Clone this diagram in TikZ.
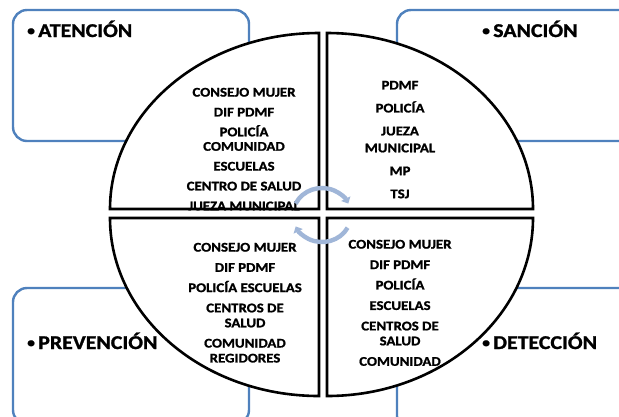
\documentclass[tikz,border=0pt]{standalone}
\usepackage{fontspec}
\setmainfont{Carlito}[FakeStretch=1.12, BoldFeatures={FakeBold=1.2}]
\usetikzlibrary{arrows.meta}
\definecolor{boxblue}{RGB}{79,129,189}
\definecolor{cycblue}{RGB}{160,182,216}
\newcommand{\areadot}{\raisebox{1.8bp}{\fontsize{14}{14}\selectfont•}\,}
\tikzset{
  areabox/.style={draw=boxblue, line width=2.4bp, fill=white, rounded corners=14bp},
  quarter/.style={draw=black, line width=2.6bp, fill=white},
  areatitle/.style={anchor=base west, inner sep=0pt, font=\fontsize{19.6}{22}\selectfont\bfseries},
  actorlist/.style={anchor=north, inner sep=0pt, align=center, font=\fontsize{13.3}{14.5}\selectfont\bfseries},
  cycarrow/.style={draw=cycblue, line width=4.4bp, -{Triangle[length=5.5bp,width=10bp]}}
}

\begin{document}
\begin{tikzpicture}[x=1bp, y=-1bp]
			%%%%% START %%%%%
			\useasboundingbox (0, 0) rectangle (619, 416);
			\clip (0, 0) rectangle (619, 416);
			
			\draw[areabox] (13, 10) rectangle (249, 141);
			\draw[areabox] (397, 10) rectangle (645, 141);
			\draw[areabox] (13, 288) rectangle (249, 424);
			\draw[areabox] (397, 288) rectangle (645, 430);
			
			\draw[quarter] (319, 209) -- (110, 209) arc[start angle=180, end angle=270, x radius=209, y radius=176] -- cycle;
			\draw[quarter] (327, 209) -- (327, 33) arc[start angle=270, end angle=360, x radius=206, y radius=176] -- cycle;
			\draw[quarter] (327, 218) -- (533, 218) arc[start angle=0, end angle=90, x radius=206, y radius=178] -- cycle;
			\draw[quarter] (319, 218) -- (319, 396) arc[start angle=90, end angle=180, x radius=209, y radius=178] -- cycle;
			
			\node[areatitle] (atencion) at (27, 37) {\areadot ATENCIÓN};
			\node[areatitle] (sancion) at (482, 37) {\areadot SANCIÓN};
			\node[areatitle] (prevencion) at (27, 349) {\areadot PREVENCIÓN};
			\node[areatitle] (deteccion) at (482, 349) {\areadot DETECCIÓN};
			
			\node[actorlist] (atencionlist) at (244, 87.7) {CONSEJO MUJER\\[5.4bp] DIF PDMF\\[5.4bp] POLICÍA\\ COMUNIDAD\\[5.4bp] ESCUELAS\\[5.4bp] CENTRO DE SALUD\\[5.4bp] JUEZA MUNICIPAL};
			\node[actorlist, font=\fontsize{13.3}{17}\selectfont\bfseries] (sancionlist) at (400, 80.7) {PDMF\\[6bp] POLICÍA\\[6bp] JUEZA\\ MUNICIPAL\\[6bp] MP\\[6bp] TSJ};
			\node[actorlist, font=\fontsize{13.3}{15}\selectfont\bfseries] (prevencionlist) at (245, 242.7) {CONSEJO MUJER\\[5.3bp] DIF PDMF\\[5.3bp] POLICÍA ESCUELAS\\[5.3bp] CENTROS DE\\ SALUD\\[5.3bp] COMUNIDAD\\ REGIDORES};
			\node[actorlist, font=\fontsize{13.3}{15}\selectfont\bfseries] (deteccionlist) at (400, 239.7) {CONSEJO MUJER\\[5.5bp] DIF PDMF\\[5.5bp] POLICÍA\\[5.5bp] ESCUELAS\\[5.5bp] CENTROS DE\\ SALUD\\[5.5bp] COMUNIDAD};
			
			\coordinate (upstart) at (295.7, 203.6);
			\coordinate (lowstart) at (347.6, 227.7);
			\draw[cycarrow] (upstart) arc[start angle=205, end angle=335, x radius=29, y radius=27];
			\draw[cycarrow] (lowstart) arc[start angle=28, end angle=155, x radius=29, y radius=27];
			%%%%% END %%%%%
\end{tikzpicture}
\end{document}
